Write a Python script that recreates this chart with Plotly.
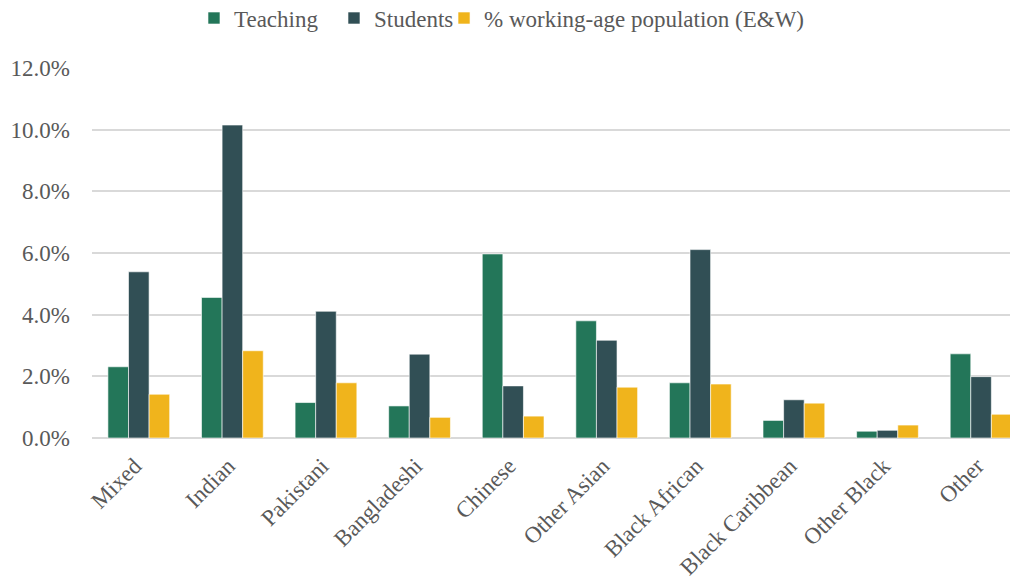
import plotly.graph_objects as go

# Categories and series (percent of total)
groups = ['Mixed', 'Indian', 'Pakistani', 'Bangladeshi', 'Chinese', 'Other Asian',
          'Black African', 'Black Caribbean', 'Other Black', 'Other']
teaching = [2.31, 4.56, 1.15, 1.04, 5.97, 3.80, 1.79, 0.57, 0.22, 2.73]
students = [5.39, 10.15, 4.11, 2.72, 1.69, 3.17, 6.11, 1.24, 0.25, 1.99]
population = [1.42, 2.83, 1.79, 0.67, 0.71, 1.65, 1.75, 1.13, 0.42, 0.77]

y_ticks = [0, 2, 4, 6, 8, 10, 12]

font_family = 'Liberation Serif, Times New Roman, serif'
text_grey = '#595959'

# one legend per series so each entry sits where the original has it
series = [
    ('Teaching', teaching, '#237659', 'legend', 0.1092),
    ('Students', students, '#314F55', 'legend2', 0.2591),
    ('% working-age population (E&W)', population, '#F0B41C', 'legend3', 0.3769),
]

fig = go.Figure()
legend_layout = {}
for name, vals, colour, leg, lx in series:
    fig.add_trace(go.Bar(
        x=groups, y=vals, name=name, legend=leg,
        marker=dict(color=colour, line=dict(color='rgba(255,255,255,0.6)', width=1)),
    ))
    legend_layout[leg] = dict(orientation='h', x=lx, xanchor='left', y=1.135, yanchor='middle',
                              font=dict(size=23, color=text_grey), bgcolor='rgba(0,0,0,0)')

fig.update_layout(
    width=1018, height=580,
    barmode='group', bargap=0.34, bargroupgap=0,
    plot_bgcolor='white', paper_bgcolor='white',
    margin=dict(l=84, r=0, t=60, b=150, autoexpand=False),
    font=dict(family=font_family, size=23, color=text_grey),
    showlegend=True,
    **legend_layout,
)

# the right end of the chart is cut off, as in the original
fig.update_xaxes(
    range=[-0.5, 9.48], tickangle=-45, showgrid=False, showline=False, automargin=False,
    ticks='', tickfont=dict(size=23, color=text_grey), ticklabelstandoff=9,
    ticklabelshift=-4,
)
fig.update_yaxes(
    range=[0, 12], tickvals=y_ticks, ticktext=['%.1f%%' % v for v in y_ticks],
    showgrid=True, gridcolor='#D9D9D9', gridwidth=2, automargin=False,
    zeroline=True, zerolinecolor='#D9D9D9', zerolinewidth=2,
    showline=False, ticks='', tickfont=dict(size=23, color=text_grey),
    ticklabelstandoff=21,
)

fig.write_html("out.html")
